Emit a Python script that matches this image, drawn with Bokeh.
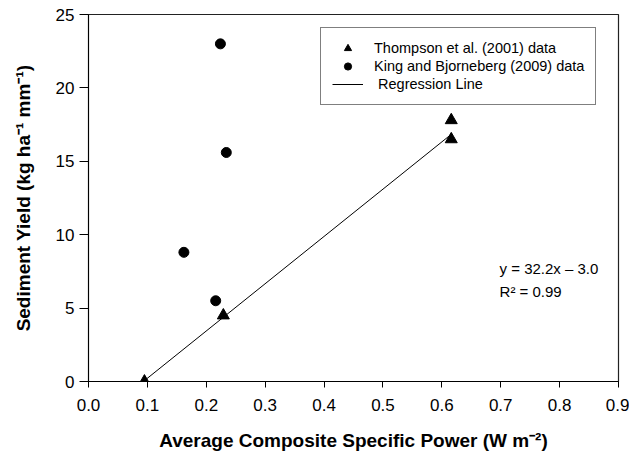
from bokeh.plotting import figure
from bokeh.models import Range1d, FixedTicker, PrintfTickFormatter, Legend, LegendItem, Label
from bokeh.embed import file_html
from bokeh.resources import INLINE

# ---- data ----
thompson_x = [0.095, 0.229, 0.616, 0.616]
thompson_y = [0.0, 4.5, 16.5, 17.8]
king_x = [0.162, 0.216, 0.224, 0.234]
king_y = [8.8, 5.5, 23.0, 15.6]
reg_x = [0.095, 0.617]
reg_y = [0.06, 16.87]
x_ticks = [0.0, 0.1, 0.2, 0.3, 0.4, 0.5, 0.6, 0.7, 0.8, 0.9]
y_ticks = [0, 5, 10, 15, 20, 25]
eq_text = "y = 32.2x \u2013 3.0"
r2_text = "R\u00b2 = 0.99"

FONT = "Liberation Sans"

p = figure(width=629, height=455, output_backend="svg", toolbar_location=None,
           x_range=Range1d(0, 0.9), y_range=Range1d(0, 25),
           min_border_left=88, min_border_right=11, min_border_top=14, min_border_bottom=74)
p.background_fill_color = "white"
p.border_fill_color = "white"
p.outline_line_color = "#222222"
p.outline_line_width = 1.2
p.grid.visible = False

for ax in (p.xaxis, p.yaxis):
    ax.major_tick_in = 0
    ax.minor_tick_line_color = None
    ax.axis_line_color = "black"
    ax.major_tick_line_color = "black"
    ax.major_label_text_font = FONT
    ax.major_label_text_font_size = "17px"
    ax.major_label_text_color = "black"
    ax.axis_label_text_font = FONT
    ax.axis_label_text_font_size = "19px"
    ax.axis_label_text_font_style = "bold"
    ax.axis_label_text_color = "black"

p.xaxis.ticker = FixedTicker(ticks=x_ticks)
p.xaxis.formatter = PrintfTickFormatter(format="%.1f")
p.xaxis.major_tick_out = 6
p.xaxis.major_label_standoff = 11
p.xaxis.axis_label = "Average Composite Specific Power (W m\u207b\u00b2)"
p.xaxis.axis_label_standoff = 16

p.yaxis.ticker = FixedTicker(ticks=y_ticks)
p.yaxis.formatter = PrintfTickFormatter(format="%d")
p.yaxis.major_tick_out = 9
p.yaxis.major_label_standoff = 5
p.yaxis.axis_label = "Sediment Yield (kg ha\u207b\u00b9 mm\u207b\u00b9)"
p.yaxis.axis_label_standoff = 19

r_tri = p.scatter(thompson_x, thompson_y, marker="triangle", size=12,
                  fill_color="black", line_color="black")
r_cir = p.scatter(king_x, king_y, marker="circle", size=10,
                  fill_color="black", line_color="black")
r_line = p.line(reg_x, reg_y, line_color="black", line_width=1)

legend = Legend(items=[
    LegendItem(label="Thompson et al. (2001) data", renderers=[r_tri]),
    LegendItem(label="King and Bjorneberg (2009) data", renderers=[r_cir]),
    LegendItem(label="\u00a0Regression Line", renderers=[r_line]),
], location=(232, 276))
legend.border_line_color = "black"
legend.border_line_width = 1
legend.background_fill_color = "white"
legend.background_fill_alpha = 1
legend.glyph_width = 31
legend.glyph_height = 18
legend.label_height = 18
legend.spacing = 0
legend.padding = 11
legend.margin = 0
legend.label_standoff = 11
legend.label_text_font = FONT
legend.label_text_font_size = "14.5px"
legend.label_text_color = "black"
p.add_layout(legend, "center")

p.add_layout(Label(x=0.698, y=7.7, text=eq_text, text_font=FONT, text_font_size="15px",
                   text_color="black", text_baseline="middle"))
p.add_layout(Label(x=0.698, y=6.1, text=r2_text, text_font=FONT, text_font_size="15px",
                   text_color="black", text_baseline="middle"))

open("out.html", "w").write(file_html(p, INLINE))
